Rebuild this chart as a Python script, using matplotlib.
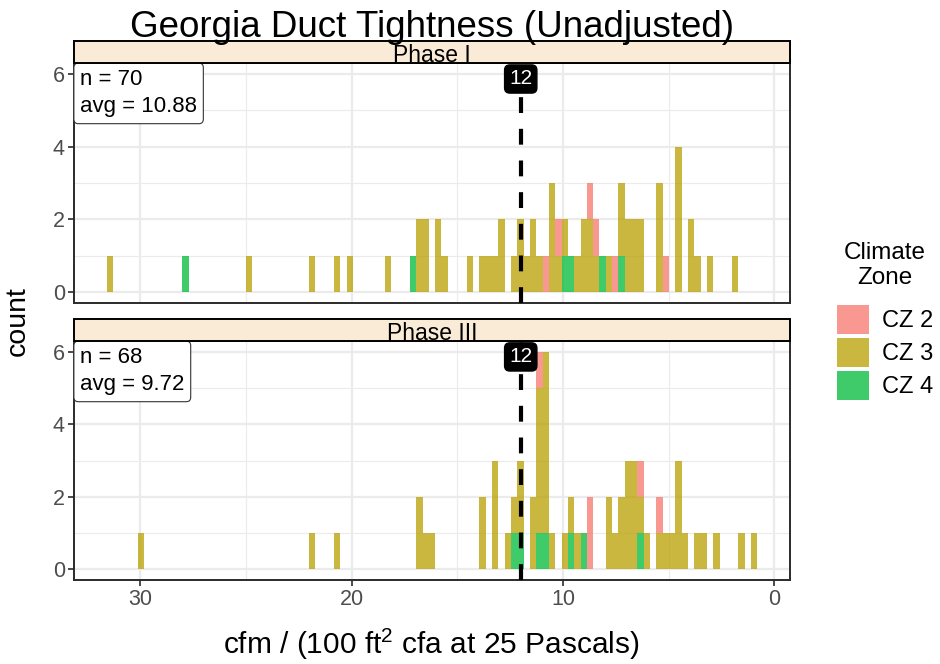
import numpy as np
import matplotlib
matplotlib.use("Agg")
import matplotlib.pyplot as plt
from matplotlib.patches import Patch

plt.rcParams['font.family'] = ['Liberation Sans', 'DejaVu Sans']
plt.rcParams['mathtext.fontset'] = 'custom'
plt.rcParams['mathtext.rm'] = 'Liberation Sans'
plt.rcParams['mathtext.it'] = 'Liberation Sans:italic'
plt.rcParams['mathtext.bf'] = 'Liberation Sans:bold'

# ---------------- data ----------------
title = "Georgia Duct Tightness (Unadjusted)"
x_label = r"cfm / (100 ft$^2$ cfa at 25 Pascals)"
y_label = "count"
phases = ["Phase I", "Phase III"]
zones = ["CZ 2", "CZ 3", "CZ 4"]
zone_colors = ["#F8766D", "#B79F00", "#00BA38"]
target = 12
phase_avg = ["10.88", "9.72"]
x_ticks = [30, 20, 10, 0]
y_ticks = [0, 2, 4, 6]

# histogram bins
bin_start = 0.80
bin_width = 0.299
n_bins = 103

# Phase I observations (cfm/100 ft2) by climate zone
phase1_cz2 = [10.82, 10.22, 8.72, 8.42, 7.53, 5.14]
phase1_cz3 = [31.45, 24.87, 21.88, 20.68, 20.09, 18.29,
              16.80, 16.80, 16.50, 16.50, 15.90, 15.90, 15.60,
              14.40, 13.81, 13.51, 13.21, 12.91, 12.91, 12.31,
              12.01, 12.01, 11.71, 11.41, 11.41, 11.12,
              10.52, 10.52, 10.52, 10.22, 9.92, 9.32, 9.02, 9.02,
              8.72, 8.72, 8.42, 7.83, 7.23, 7.23, 6.93, 6.93,
              6.63, 6.63, 6.33, 6.33, 5.43, 5.43, 5.43,
              4.54, 4.54, 4.54, 4.54, 3.94, 3.94, 3.64, 3.04, 1.85]
phase1_cz4 = [27.86, 17.10, 9.92, 9.62, 8.13, 7.23]

# Phase III observations by climate zone
phase3_cz2 = [11.12, 8.72, 8.72, 6.33, 5.43]
phase3_cz3 = [29.95, 21.88, 20.68, 16.80, 16.80, 16.50, 16.20,
              13.81, 13.81, 13.21, 13.21, 13.21, 12.61, 12.31,
              12.01, 12.01, 11.41, 11.41,
              11.12, 11.12, 11.12, 11.12,
              10.82, 10.82, 10.82, 10.82, 10.82,
              10.52, 9.92, 9.62, 9.32, 7.83, 7.83, 7.53, 7.23, 7.23,
              6.93, 6.93, 6.93, 6.63, 6.63, 6.63, 6.33, 6.03,
              5.43, 5.14, 4.84, 4.54, 4.54, 4.54, 4.24,
              3.64, 3.34, 2.74, 1.55, 0.95]
phase3_cz4 = [12.31, 12.01, 11.12, 10.82, 9.62, 9.02, 6.33]

phase_data = [[phase1_cz2, phase1_cz3, phase1_cz4],
              [phase3_cz2, phase3_cz3, phase3_cz4]]

# ---------------- figure ----------------
W, H = 940, 664
fig = plt.figure(figsize=(W / 100, H / 100), dpi=100)


def px_rect(left, top, right, bottom):
    return [left / W, 1 - bottom / H, (right - left) / W, (bottom - top) / H]


edges = bin_start + bin_width * np.arange(n_bins + 1)
centers = (edges[:-1] + edges[1:]) / 2
pad = 0.05 * (edges[-1] - edges[0])
xlim = (edges[-1] + pad, edges[0] - pad)

hists = [[np.histogram(z, bins=edges)[0] for z in pdata] for pdata in phase_data]
ymax = max(sum(h).max() for h in hists)
ylim = (-0.05 * ymax, 1.05 * ymax)

panel_px = [(74, 63, 790, 303), (74, 341, 790, 580)]
strip_px = [(74, 41, 790, 63), (74, 319, 790, 341)]

grid_col = "#EBEBEB"
border_col = "#2b2b2b"
tick_col = "#4D4D4D"

for i, (phase, pdata) in enumerate(zip(phases, phase_data)):
    ax = fig.add_axes(px_rect(*panel_px[i]))
    ax.set_xlim(*xlim)
    ax.set_ylim(*ylim)
    ax.set_xticks(x_ticks)
    ax.set_xticks([25, 15, 5], minor=True)
    ax.set_yticks(y_ticks)
    ax.set_yticks([1, 3, 5], minor=True)
    ax.grid(which='major', color=grid_col, lw=1.6)
    ax.grid(which='minor', color=grid_col, lw=0.8)
    ax.set_axisbelow(True)
    ax.tick_params(which='minor', length=0)
    ax.tick_params(which='major', length=4, width=1.2, color=border_col,
                   labelcolor=tick_col, labelsize=15.5, pad=2.5)
    for sp in ax.spines.values():
        sp.set_color(border_col)
        sp.set_linewidth(1.4)
    if i == 0:
        ax.tick_params(axis='x', which='both', bottom=False, labelbottom=False)

    # stacked histogram: CZ 4 bottom, CZ 3 middle, CZ 2 top
    h = hists[i]
    bottom = np.zeros(n_bins)
    for zi in [2, 1, 0]:
        ax.bar(centers, h[zi], width=bin_width, bottom=bottom,
               color=zone_colors[zi], alpha=0.75, linewidth=0, align='center')
        bottom = bottom + h[zi]

    ax.axvline(target, color='black', lw=3.0, linestyle=(0, (3.8, 3.8)), zorder=3)
    ax.text(target, ylim[1] - 0.44, str(target), ha='center', va='center',
            color='white', fontsize=15, zorder=5,
            bbox=dict(boxstyle='round,pad=0.22,rounding_size=0.25',
                      fc='black', ec='black'))

    n_obs = sum(len(z) for z in pdata)
    ax.annotate(f"n = {n_obs}\navg = {phase_avg[i]}", xy=(0, 1),
                xycoords='axes fraction', xytext=(4.4, -4.6),
                textcoords='offset points', ha='left', va='top',
                fontsize=16, linespacing=1.38, zorder=6,
                bbox=dict(boxstyle='round,pad=0.28,rounding_size=0.2',
                          fc='white', ec='#333333', lw=0.8))

    sax = fig.add_axes(px_rect(*strip_px[i]))
    sax.set_facecolor('#FAEBD7')
    sax.set_xticks([])
    sax.set_yticks([])
    for sp in sax.spines.values():
        sp.set_color('black')
        sp.set_linewidth(1.4)
    sax.text(0.5, 0.32, phase, ha='center', va='center', fontsize=16.5,
             transform=sax.transAxes)

fig.text(432 / W, 1 - 37 / H, title, ha='center', va='baseline', fontsize=26.5)
fig.text(431 / W, 1 - 644 / H, x_label, ha='center', va='center', fontsize=21.5)
fig.text(18 / W, 1 - 321 / H, y_label, ha='center', va='center',
         rotation=90, fontsize=20.5)

handles = [Patch(facecolor=c, alpha=0.75, edgecolor='none') for c in zone_colors]
leg = fig.legend(handles, zones, title="Climate\nZone", loc='upper left',
                 bbox_to_anchor=(837 / W, 1 - 242 / H), frameon=False,
                 fontsize=17, title_fontsize=17.5, handlelength=1.35,
                 handleheight=1.55, handletextpad=0.55, labelspacing=0.15,
                 borderpad=0, borderaxespad=0, alignment='center')
leg.get_title().set_multialignment('center')
leg._legend_box.sep = 11

fig.savefig("out.png", dpi=100)
